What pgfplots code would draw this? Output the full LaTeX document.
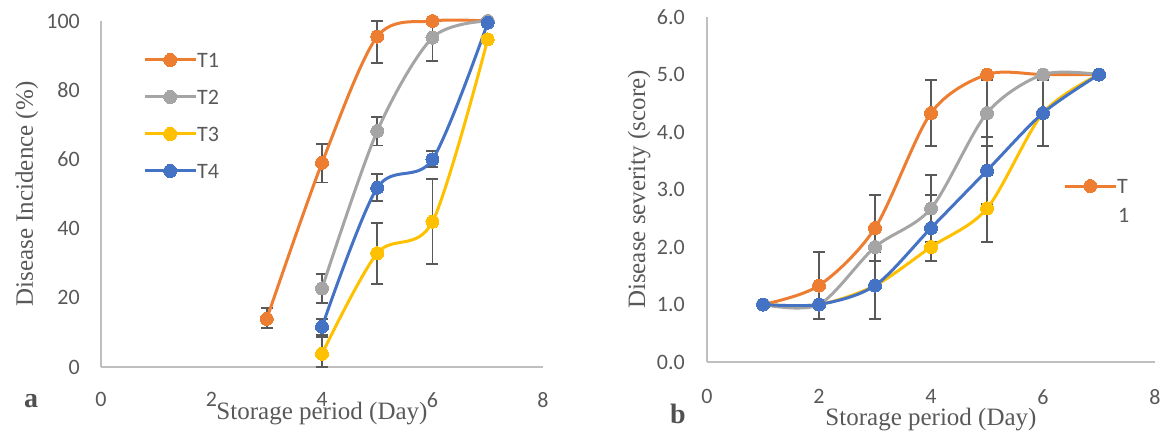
\documentclass[border=0pt]{standalone}
\usepackage{fontspec}
\setmainfont{Liberation Serif}
\newfontfamily\calibri{Carlito}
\usepackage{pgfplots}
\pgfplotsset{compat=1.18}
\usepackage{pgfplotstable}
\definecolor{cT1}{HTML}{ED7D31}
\definecolor{cT2}{HTML}{A5A5A5}
\definecolor{cT3}{HTML}{FFC000}
\definecolor{cT4}{HTML}{4472C4}
\definecolor{axgray}{HTML}{BFBFBF}
\definecolor{txtgray}{HTML}{595959}
\definecolor{errgray}{HTML}{595959}
\definecolor{letgray}{HTML}{505050}

\pgfplotstableread{
x T1 T2 T3 T4
3 13.9 nan nan nan
4 59 22.7 3.8 11.6
5 95.5 68.2 32.9 51.8
6 100 95.2 42 60
7 100 100 94.7 99.5
}\incid

\pgfplotstableread{
x y ep em
3 13.9 3.2 2.7
4 59 5.4 5.7
5 95.5 4.5 7.7
4 22.7 4.2 4.1
5 68.2 4 4.2
6 95.2 4.8 6.8
4 3.8 4.8 3.8
5 32.9 8.8 9
6 42 12.3 12.2
4 11.6 2.3 2.4
5 51.8 4 3.8
6 60 2.4 2.1
}\incerr

\pgfplotstableread{
x T1 T2 T3 T4
1 1 1 1 1
2 1.33 1 1 1
3 2.33 2 1.33 1.33
4 4.33 2.67 2 2.33
5 5 4.33 2.67 3.33
6 5 5 4.33 4.33
7 5 5 5 5
}\sever

\pgfplotstableread{
x y ep em
2 1.33 0.58 0.58
3 2.33 0.58 0.58
4 4.33 0.58 0.58
4 2.67 0.58 0.58
5 4.33 0.58 0.58
5 2.67 0.58 0.58
6 4.33 0.58 0.58
3 1.33 0.58 0.58
4 2.33 0.58 0.58
5 3.33 0.58 0.58
}\sevrerr

\pgfplotsset{
  excel/.style={
    scale only axis, axis lines=left,
    axis line style={draw=axgray, line width=1.3pt, -},
    major tick length=0pt, clip=false,
    tick label style={font=\calibri\fontsize{22}{22}\selectfont, text=txtgray, inner sep=0pt},
    /pgf/number format/assume math mode=true,
    label style={font=\fontsize{25}{25}\selectfont, text=txtgray},
    xtick={0,2,4,6,8}, xmin=0, xmax=8,
    legend cell align=left,
    legend image code/.code={\draw[mark repeat=2, mark phase=2, line width=3pt] plot coordinates {(0pt,0pt)(25.5pt,0pt)(51pt,0pt)};},
  },
  ser/.style={color=#1, line width=3pt, mark=*, mark size=6.5pt, smooth,
    mark options={solid, fill=#1, draw=#1, line width=0pt}},
  errs/.style={draw=none, mark=none, forget plot,
    error bars/.cd, y dir=both, y explicit,
    error bar style={draw=errgray, line width=1.8pt},
    error mark=-,
    error mark options={rotate=90, draw=errgray, mark size=6pt, line width=1.8pt}},
}

\begin{document}
\begin{tikzpicture}
\path[use as bounding box] (0,0) rectangle (1165pt,432pt);

% ---------------- panel a ----------------
\begin{axis}[excel,
  at={(101pt,65pt)}, anchor=south west,
  width=442pt, height=346pt,
  ymin=0, ymax=100, ytick={0,20,...,100},
  xticklabel shift=25pt, yticklabel shift=21pt,
  xlabel={Storage period (Day)},
  ylabel={Disease Incidence (\%)},
  xlabel style={at={(axis description cs:0.5,-0.152)}, anchor=base},
  ylabel style={at={(axis description cs:-0.154,0.5)}, anchor=base},
  legend style={draw=none, fill=none, at={(axis cs:0.76,72.7)}, anchor=west,
    font=\calibri\fontsize{22}{22}\selectfont, text=txtgray, inner sep=0pt,
    row sep=22pt, nodes={inner sep=0pt, text height=15pt, text depth=0pt},
    /tikz/every even column/.append style={column sep=8pt}},
]
\addplot[errs] table[x=x, y=y, y error plus=ep, y error minus=em] {\incerr};
\addplot[ser=cT1] table[x=x, y=T1] {\incid};
\addlegendentry{T1}
\addplot[ser=cT2] table[x=x, y=T2] {\incid};
\addlegendentry{T2}
\addplot[ser=cT3] table[x=x, y=T3] {\incid};
\addlegendentry{T3}
\addplot[ser=cT4] table[x=x, y=T4] {\incid};
\addlegendentry{T4}
\end{axis}

% ---------------- panel b ----------------
\begin{axis}[excel,
  at={(707pt,70pt)}, anchor=south west,
  width=448pt, height=345pt,
  ymin=0, ymax=6, ytick={0,1,...,6},
  yticklabel style={/pgf/number format/.cd, fixed, fixed zerofill, precision=1},
  xticklabel shift=27pt, yticklabel shift=22pt,
  xlabel={Storage period (Day)},
  ylabel={Disease severity (score)},
  xlabel style={at={(axis description cs:0.5,-0.183)}, anchor=base},
  ylabel style={at={(axis description cs:-0.1384,0.5)}, anchor=base},
  legend style={draw=none, fill=none, at={(axis cs:6.357,3.06)}, anchor=west,
    font=\calibri\fontsize{22}{22}\selectfont, text=txtgray, inner sep=0pt,
    nodes={inner sep=0pt, text height=15pt, text depth=0pt},
    /tikz/every even column/.append style={column sep=3pt}},
]
\addplot[errs] table[x=x, y=y, y error plus=ep, y error minus=em] {\sevrerr};
\addplot[ser=cT1] table[x=x, y=T1] {\sever};
\addlegendentry{T}
\addplot[ser=cT2, forget plot] table[x=x, y=T2] {\sever};
\addplot[ser=cT3, forget plot] table[x=x, y=T3] {\sever};
\addplot[ser=cT4, forget plot] table[x=x, y=T4] {\sever};
\node[anchor=west, inner sep=0pt, font=\calibri\fontsize{22}{22}\selectfont, text=txtgray] at (axis cs:7.339,2.55) {1};
\end{axis}

\node[anchor=base, inner sep=0pt, font=\bfseries\fontsize{28}{28}\selectfont, text=letgray] at (31pt,25pt) {a};
\node[anchor=base, inner sep=0pt, font=\bfseries\fontsize{28}{28}\selectfont, text=letgray] at (678pt,9pt) {b};
\end{tikzpicture}
\end{document}
